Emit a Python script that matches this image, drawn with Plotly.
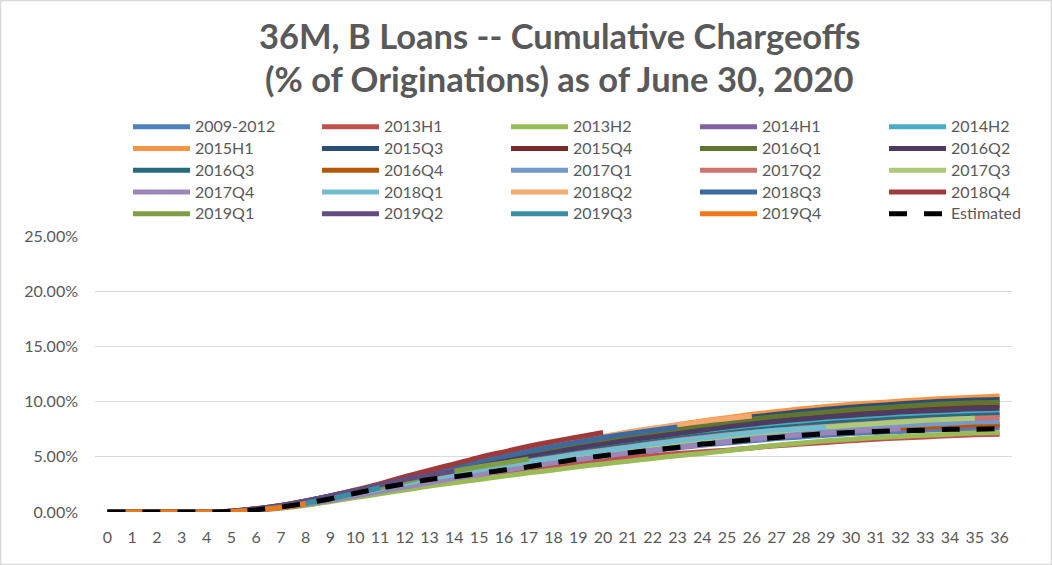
import plotly.graph_objects as go

months = list(range(37))
tick_labels = [str(m) for m in months]

vintages = ["2009-2012", "2013H1", "2013H2", "2014H1", "2014H2", "2015H1", "2015Q3",
            "2015Q4", "2016Q1", "2016Q2", "2016Q3", "2016Q4", "2017Q1", "2017Q2",
            "2017Q3", "2017Q4", "2018Q1", "2018Q2", "2018Q3", "2018Q4", "2019Q1",
            "2019Q2", "2019Q3", "2019Q4"]

colors = ["#4F81BD", "#C0504D", "#9BBB59", "#8064A2", "#4BACC6", "#F79646", "#2C4D75",
          "#772C2A", "#5F7530", "#4D3B62", "#276A7C", "#B65708", "#729ACA", "#CD7371",
          "#AFC97A", "#9A86B8", "#72BDD0", "#F6A96E", "#3D6A9E", "#9E3B3A", "#7E9D44",
          "#634D80", "#3A8DA5", "#F07818"]

# cumulative chargeoffs, % of originations, by month on book
v2009_2012 = [0, 0, 0, 0, 0, 0.05, 0.2, 0.4, 0.7, 1.05, 1.45, 1.9, 2.3, 2.7, 3.1, 3.45, 3.8, 4.1, 4.45, 4.75, 5.05, 5.3, 5.55, 5.8, 6.05, 6.25, 6.45, 6.65, 6.8, 6.95, 7.1, 7.2, 7.3, 7.4, 7.5, 7.55, 7.6]
v2013H1 = [0, 0, 0, 0, 0, 0.04, 0.18, 0.4, 0.68, 1.05, 1.42, 1.82, 2.2, 2.55, 2.9, 3.2, 3.5, 3.8, 4.1, 4.4, 4.65, 4.9, 5.1, 5.3, 5.45, 5.6, 5.8, 6.0, 6.15, 6.3, 6.45, 6.6, 6.7, 6.8, 6.9, 7.0, 7.05]
v2013H2 = [0, 0, 0, 0, 0, 0.03, 0.15, 0.35, 0.6, 0.95, 1.3, 1.65, 2.0, 2.35, 2.65, 2.95, 3.25, 3.55, 3.8, 4.1, 4.35, 4.6, 4.85, 5.1, 5.3, 5.55, 5.8, 6.05, 6.25, 6.45, 6.6, 6.75, 6.85, 6.95, 7.05, 7.15, 7.2]
v2014H1 = [0, 0, 0, 0, 0, 0.05, 0.2, 0.4, 0.7, 1.1, 1.5, 1.95, 2.4, 2.8, 3.2, 3.55, 3.9, 4.25, 4.55, 4.85, 5.15, 5.45, 5.7, 5.95, 6.2, 6.4, 6.6, 6.8, 6.95, 7.1, 7.25, 7.4, 7.5, 7.6, 7.7, 7.75, 7.8]
v2014H2 = [0, 0, 0, 0, 0, 0.05, 0.2, 0.45, 0.8, 1.25, 1.7, 2.2, 2.7, 3.15, 3.6, 4.0, 4.4, 4.8, 5.15, 5.5, 5.85, 6.2, 6.5, 6.8, 7.05, 7.3, 7.55, 7.8, 8.0, 8.2, 8.35, 8.5, 8.65, 8.75, 8.85, 8.95, 9.0]
v2015H1 = [0, 0, 0, 0, 0, 0.05, 0.25, 0.55, 0.95, 1.45, 2.0, 2.55, 3.1, 3.6, 4.1, 4.6, 5.05, 5.5, 5.95, 6.4, 6.8, 7.2, 7.55, 7.9, 8.25, 8.55, 8.85, 9.1, 9.35, 9.55, 9.75, 9.9, 10.05, 10.2, 10.3, 10.4, 10.5]
v2015Q3 = [0, 0, 0, 0, 0, 0.05, 0.25, 0.55, 0.95, 1.45, 1.95, 2.5, 3.05, 3.55, 4.05, 4.5, 4.95, 5.4, 5.85, 6.25, 6.65, 7.0, 7.35, 7.7, 8.0, 8.3, 8.6, 8.85, 9.1, 9.3, 9.5, 9.65, 9.8, 9.95, 10.05, 10.15, 10.2]
v2015Q4 = [0, 0, 0, 0, 0, 0.05, 0.25, 0.5, 0.9, 1.35, 1.85, 2.4, 2.9, 3.4, 3.85, 4.3, 4.75, 5.2, 5.6, 6.0, 6.35, 6.7, 7.05, 7.35, 7.65, 7.95, 8.2, 8.45, 8.65, 8.85, 9.05, 9.2, 9.35, 9.45, 9.55, 9.65, 9.7]
v2016Q1 = [0, 0, 0, 0, 0, 0.05, 0.25, 0.5, 0.9, 1.4, 1.9, 2.45, 2.95, 3.45, 3.95, 4.4, 4.85, 5.3, 5.7, 6.1, 6.5, 6.85, 7.2, 7.5, 7.8, 8.1, 8.4, 8.65, 8.85, 9.05, 9.25, 9.4, 9.55, 9.7, 9.8, 9.9, 9.95]
v2016Q2 = [0, 0, 0, 0, 0, 0.05, 0.2, 0.5, 0.85, 1.3, 1.8, 2.3, 2.8, 3.3, 3.75, 4.2, 4.6, 5.0, 5.4, 5.8, 6.15, 6.5, 6.8, 7.1, 7.4, 7.7, 7.95, 8.2, 8.4, 8.6, 8.75, 8.9, 9.05, 9.15, 9.25, 9.35, 9.4]
v2016Q3 = [0, 0, 0, 0, 0, 0.05, 0.2, 0.45, 0.8, 1.25, 1.7, 2.2, 2.65, 3.1, 3.55, 3.95, 4.35, 4.7, 5.05, 5.4, 5.75, 6.05, 6.35, 6.65, 6.9, 7.15, 7.4, 7.6, 7.8, 8.0, 8.15, 8.3, 8.45, 8.55, 8.65, 8.75, 8.8]
v2016Q4 = [0, 0, 0, 0, 0, 0.05, 0.2, 0.4, 0.75, 1.15, 1.55, 2.0, 2.45, 2.85, 3.25, 3.6, 3.95, 4.3, 4.65, 4.95, 5.25, 5.55, 5.8, 6.05, 6.3, 6.5, 6.7, 6.9, 7.05, 7.2, 7.35, 7.5, 7.6, 7.7, 7.8, 7.9, 7.95]
v2017Q1 = [0, 0, 0, 0, 0, 0.05, 0.2, 0.45, 0.75, 1.15, 1.6, 2.05, 2.5, 2.95, 3.35, 3.75, 4.1, 4.45, 4.8, 5.1, 5.4, 5.7, 6.0, 6.25, 6.5, 6.7, 6.9, 7.1, 7.3, 7.45, 7.6, 7.75, 7.85, 7.95, 8.05, 8.15, 8.2]
v2017Q2 = [0, 0, 0, 0, 0, 0.05, 0.2, 0.45, 0.8, 1.2, 1.65, 2.15, 2.6, 3.05, 3.45, 3.85, 4.25, 4.6, 4.95, 5.3, 5.6, 5.9, 6.2, 6.5, 6.75, 7.0, 7.2, 7.4, 7.6, 7.75, 7.9, 8.05, 8.2, 8.3, 8.4, 8.5, 8.55]
v2017Q3 = [0, 0, 0, 0, 0, 0.05, 0.2, 0.45, 0.8, 1.2, 1.65, 2.1, 2.55, 2.95, 3.35, 3.75, 4.1, 4.45, 4.8, 5.15, 5.45, 5.75, 6.05, 6.35, 6.6, 6.85, 7.1, 7.3, 7.5, 7.7, 7.85, 8.0, 8.15, 8.3, 8.4, 8.5]
v2017Q4 = [0, 0, 0, 0, 0, 0.05, 0.2, 0.4, 0.7, 1.05, 1.45, 1.85, 2.25, 2.65, 3.05, 3.4, 3.75, 4.1, 4.45, 4.75, 5.05, 5.35, 5.6, 5.85, 6.1, 6.35, 6.6, 6.8, 7.0, 7.15, 7.3, 7.45, 7.55]
v2018Q1 = [0, 0, 0, 0, 0, 0.05, 0.2, 0.45, 0.8, 1.2, 1.65, 2.1, 2.55, 3.0, 3.4, 3.8, 4.2, 4.55, 4.9, 5.25, 5.55, 5.85, 6.15, 6.45, 6.7, 6.95, 7.2, 7.4, 7.55, 7.7]
v2018Q2 = [0, 0, 0, 0, 0, 0.05, 0.25, 0.55, 0.95, 1.45, 2.0, 2.55, 3.1, 3.65, 4.15, 4.65, 5.15, 5.6, 6.05, 6.45, 6.85, 7.25, 7.6, 7.9, 8.2, 8.45, 8.7]
v2018Q3 = [0, 0, 0, 0, 0, 0.08, 0.3, 0.6, 1.0, 1.45, 1.95, 2.5, 3.05, 3.6, 4.1, 4.6, 5.05, 5.5, 5.95, 6.35, 6.75, 7.1, 7.4, 7.7]
v2018Q4 = [0, 0, 0, 0, 0, 0.1, 0.3, 0.6, 1.0, 1.45, 1.95, 2.55, 3.2, 3.8, 4.35, 4.95, 5.45, 5.95, 6.4, 6.8, 7.2]
v2019Q1 = [0, 0, 0, 0, 0, 0.05, 0.2, 0.45, 0.8, 1.2, 1.7, 2.2, 2.75, 3.25, 3.7, 4.1, 4.45, 4.8]
v2019Q2 = [0, 0, 0, 0, 0, 0.08, 0.3, 0.6, 1.0, 1.45, 1.95, 2.45, 2.95, 3.35, 3.7]
v2019Q3 = [0, 0, 0, 0, 0, 0.05, 0.2, 0.45, 0.8, 1.2, 1.7, 2.2]
v2019Q4 = [0, 0, 0, 0, 0, 0.03, 0.18, 0.42, 0.75]
estimated = [0, 0, 0, 0, 0, 0.05, 0.2, 0.45, 0.8, 1.2, 1.7, 2.15, 2.55, 2.95, 3.2, 3.5, 3.8, 4.1, 4.45, 4.8, 5.1, 5.35, 5.6, 5.85, 6.15, 6.35, 6.55, 6.75, 6.95, 7.1, 7.2, 7.3, 7.35, 7.4, 7.5, 7.5, 7.55]

series = [v2009_2012, v2013H1, v2013H2, v2014H1, v2014H2, v2015H1, v2015Q3, v2015Q4,
          v2016Q1, v2016Q2, v2016Q3, v2016Q4, v2017Q1, v2017Q2, v2017Q3, v2017Q4,
          v2018Q1, v2018Q2, v2018Q3, v2018Q4, v2019Q1, v2019Q2, v2019Q3, v2019Q4]

# entries shown in the fifth legend column
col5 = {"2014H2", "2016Q2", "2017Q3", "2018Q4", "Estimated"}

y_ticks = [0, 5, 10, 15, 20, 25]
y_tick_labels = ["0.00%", "5.00%", "10.00%", "15.00%", "20.00%", "25.00%"]

FONT = "Lato"
GREY = "#595959"
TICK = 16
TXT = 16      # rendered legend text size
LEG_ROW = 14.4  # legend font size that sets the row pitch


def leg(name):
    return '<span style="font-size:%dpx">%s</span>' % (TXT, name)


fig = go.Figure()
for name, vals, col in zip(vintages, series, colors):
    fig.add_trace(go.Scatter(
        x=months[:len(vals)], y=vals, name=leg(name), mode="lines",
        line=dict(color=col, width=5, shape="spline", smoothing=0.6),
        hoverinfo="skip", legend="legend2" if name in col5 else "legend",
    ))
fig.add_trace(go.Scatter(
    x=months, y=estimated, name=leg("Estimated"), mode="lines",
    line=dict(color="#000000", width=5, dash="18px,17px", shape="spline", smoothing=0.6),
    hoverinfo="skip", legend="legend2",
))

W, H = 1052, 565
L, R, T, B = 95, 40, 236, 53
pw, ph = W - L - R, H - T - B


def px_x(x):
    return (x - L) / pw


def px_y(y):
    return (H - B - y) / ph


legend_common = dict(
    yanchor="top", xanchor="left", y=px_y(111),
    font=dict(family=FONT, size=LEG_ROW, color=GREY),
    entrywidth=117, entrywidthmode="pixels", itemwidth=57,
    bgcolor="rgba(0,0,0,0)", traceorder="normal",
)

fig.update_layout(
    width=W, height=H,
    margin=dict(l=L, r=R, t=T, b=B, autoexpand=False),
    paper_bgcolor="white", plot_bgcolor="white",
    font=dict(family=FONT, color=GREY, size=16),
    showlegend=True,
    legend=dict(orientation="h", x=px_x(128), **legend_common),
    legend2=dict(orientation="v", x=px_x(884), **legend_common),
    xaxis=dict(
        type="linear", range=[-0.5, 36.5], tickmode="array", tickvals=months,
        ticktext=tick_labels, showgrid=False, zeroline=False, showline=False,
        ticks="", tickfont=dict(family=FONT, size=TICK, color=GREY),
        ticklabelstandoff=14,
    ),
    yaxis=dict(
        range=[0, 25], tickmode="array", tickvals=y_ticks, ticktext=y_tick_labels,
        showgrid=True, gridcolor="#D9D9D9", gridwidth=1.3, zeroline=False,
        showline=False, ticks="", tickfont=dict(family=FONT, size=TICK, color=GREY),
        ticklabelstandoff=16,
    ),
    annotations=[
        dict(text="<b>36M, B Loans -- Cumulative Chargeoffs</b>", x=px_x(559), y=px_y(35),
             xref="paper", yref="paper", showarrow=False, xanchor="center", yanchor="middle",
             font=dict(family=FONT, size=34.5, color=GREY)),
        dict(text="<b>(% of Originations) as of June 30, 2020</b>", x=px_x(559), y=px_y(79),
             xref="paper", yref="paper", showarrow=False, xanchor="center", yanchor="middle",
             font=dict(family=FONT, size=34.5, color=GREY)),
    ],
    shapes=[
        dict(type="rect", xref="paper", yref="paper", x0=px_x(0.5), x1=px_x(W - 0.5),
             y0=px_y(H - 0.5), y1=px_y(0.5), line=dict(color="#D9D9D9", width=1.5),
             layer="below"),
    ],
)

fig.write_html("out.html", config={"displayModeBar": False},
               post_script="document.body.style.margin='0px';")
